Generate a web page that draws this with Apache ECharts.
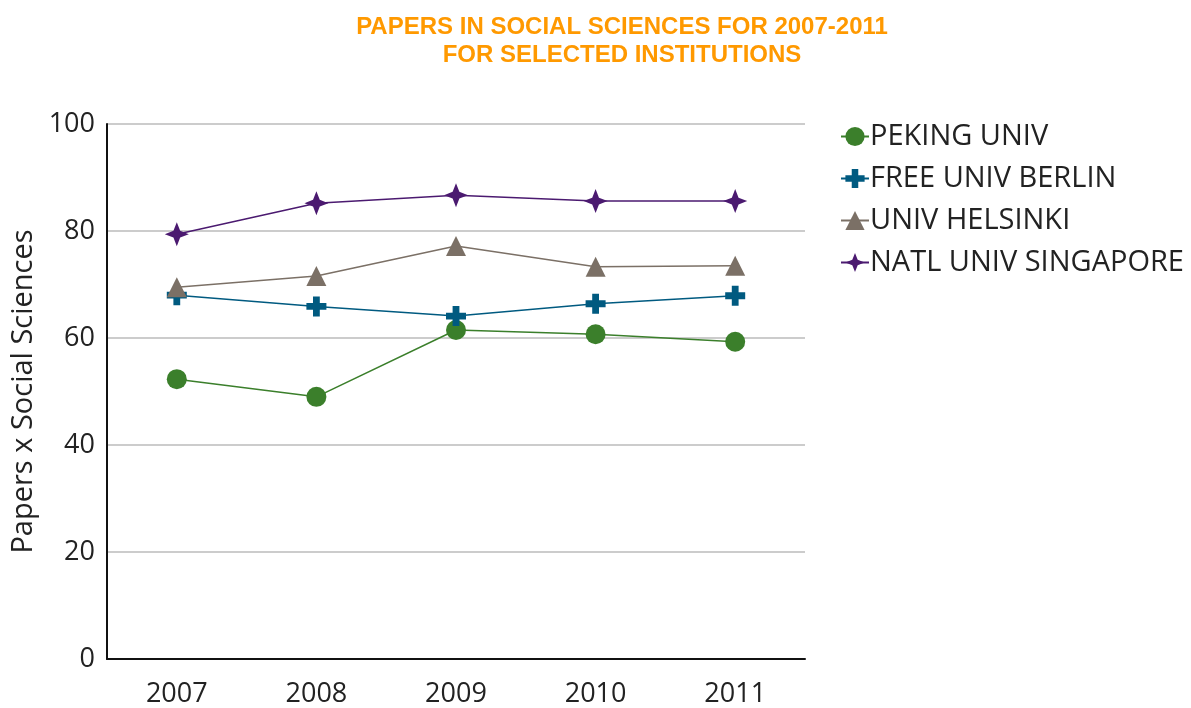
<!DOCTYPE html>
<html><head><meta charset="utf-8">
<script src="https://cdn.jsdelivr.net/npm/echarts@6/dist/echarts.min.js"></script>
<style>html,body{margin:0;padding:0;background:#fff}#c{width:1191px;height:708px}</style>
</head><body><div id="c"></div>
<script>
const categories = ['2007','2008','2009','2010','2011'];
const peking = [52.3, 49.0, 61.5, 60.7, 59.3];
const berlin = [68.0, 65.9, 64.1, 66.4, 67.9];
const helsinki = [69.5, 71.6, 77.2, 73.3, 73.5];
const singapore = [79.4, 85.2, 86.7, 85.6, 85.6];
const seriesNames = ['PEKING UNIV','FREE UNIV BERLIN','UNIV HELSINKI','NATL UNIV SINGAPORE'];
const colors = ['#3b7f2b','#005a80','#7b7066','#4b1a70'];
const crossSym = 'path://M3.3,0H6.7V3.3H10V6.7H6.7V10H3.3V6.7H0V3.3H3.3Z';
const starSym = 'path://M5,0L6.4,3.6L10,5L6.4,6.4L5,10L3.6,6.4L0,5L3.6,3.6Z';
const font = '"Open Sans", "Noto Sans", sans-serif';

function mk(name, data, color, symbol, size){
  return {name, type:'line', data, symbol, symbolSize:size,
    lineStyle:{color, width:1.5}, itemStyle:{color}, z:2};
}
const chart = echarts.init(document.getElementById('c'));
chart.setOption({
  animation:false,
  title:{text:'PAPERS IN SOCIAL SCIENCES FOR 2007-2011\nFOR SELECTED INSTITUTIONS', left:617, textAlign:'center', top:8,
    textStyle:{color:'#ff9900', fontFamily:'Liberation Sans, Arial, sans-serif', fontWeight:'bold', fontSize:24, lineHeight:28}},
  grid:{left:107, right:386, top:124, bottom:49},
  legend:{orient:'vertical', left:835, top:117, itemGap:13, itemWidth:28, itemHeight:24,
    textStyle:{fontFamily:font, fontSize:29, color:'#222', padding:[0,0,0,-4]},
    data:seriesNames},
  xAxis:{type:'category', data:categories, boundaryGap:true,
    axisLine:{lineStyle:{color:'#111', width:2}}, axisTick:{show:false},
    axisLabel:{fontFamily:font, fontSize:27, color:'#222', margin:22}},
  yAxis:{type:'value', min:0, max:100, interval:20, name:'Papers x Social Sciences', nameLocation:'middle', nameGap:66,
    nameTextStyle:{fontFamily:font, fontSize:29, color:'#222'},
    axisLine:{show:true, lineStyle:{color:'#111', width:2}}, axisTick:{show:false},
    axisLabel:{fontFamily:font, fontSize:27, color:'#222', margin:12},
    splitLine:{lineStyle:{color:'#cccccc', width:2}}},
  series:[
    mk(seriesNames[0], peking, colors[0], 'circle', 20),
    mk(seriesNames[1], berlin, colors[1], crossSym, 20),
    mk(seriesNames[2], helsinki, colors[2], 'triangle', 20),
    mk(seriesNames[3], singapore, colors[3], starSym, 24)
  ]
});
</script></body></html>
